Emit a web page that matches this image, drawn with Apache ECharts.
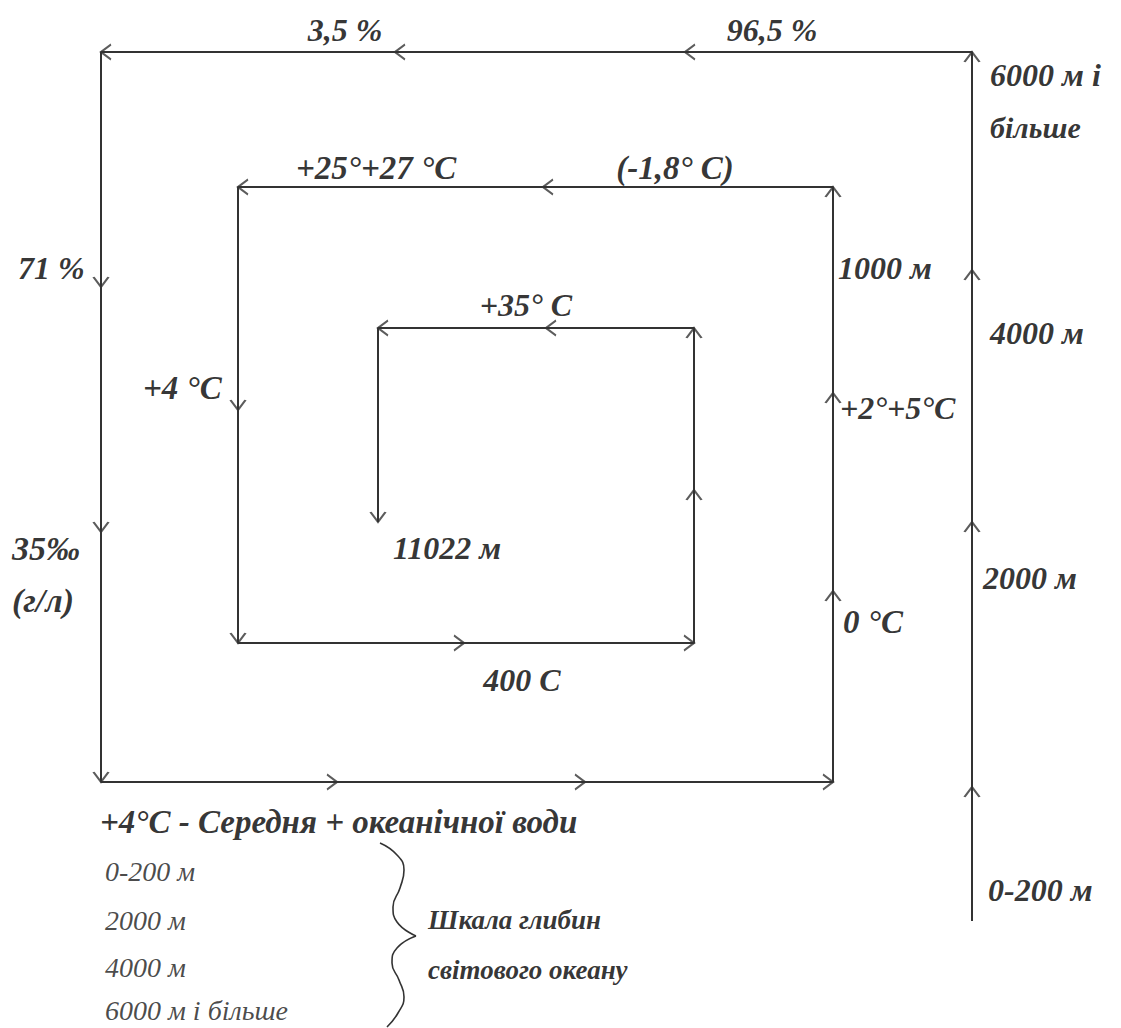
<!DOCTYPE html>
<html><head><meta charset="utf-8">
<script src="https://cdn.jsdelivr.net/npm/echarts@6/dist/echarts.min.js"></script>
<style>html,body{margin:0;padding:0;background:#fff}#c{width:1121px;height:1028px}</style>
</head><body><div id="c"></div>
<script>
// ---- data (diagram coordinates, y grows downward) ----
const spiralX = [972, 972, 101, 101, 833, 833, 238, 238, 694, 694, 378, 378];
const spiralY = [921,  52,  52, 782, 782, 187, 187, 643, 643, 328, 328, 522];

const arrowX   = [972, 972, 972, 972, 685, 395, 101, 101, 101, 101, 337, 585, 833, 833, 833, 833, 543, 238, 238, 238, 464, 694, 694, 694, 546, 378, 378];
const arrowY   = [ 52, 270, 522, 787,  52,  52,  52, 287, 532, 782, 782, 782, 782, 187, 393, 591, 187, 187, 410, 643, 643, 643, 328, 490, 328, 328, 522];
const arrowDir = ['u','u','u','u','l','l','l','d','d','d','r','r','r','u','u','u','l','l','d','d','r','r','u','u','l','l','d'];

const braceTopX = [380, 397, 404, 400, 393, 397, 416];
const braceTopY = [843, 855, 870, 888, 907, 922, 936];
const braceBotX = [416, 397, 392, 399, 404, 398, 387];
const braceBotY = [936, 948, 963, 980, 997, 1013, 1027];

const boldLabels = ['3,5 %', '96,5 %', '6000 м і', 'більше', '+25°+27 °C', '(-1,8° C)', '71 %', '1000 м', '4000 м', '+35° C', '+4 °C', '+2°+5°C', '35‰', '(г/л)', '11022 м', '2000 м', '0 °C', '400 C', '+4°C - Середня + океанічної води', 'Шкала глибин', 'світового океану', '0-200 м'];
const depthLabels = ['0-200 м', '2000 м', '4000 м', '6000 м і більше'];

// ---- layout (label anchors: x, y, align, font size) ----
const boldPos = [
  [345, 30, 'center', 32], [772, 30, 'center', 32], [990, 75, 'left', 32], [990, 127, 'left', 30],
  [376, 168, 'center', 33], [675, 168, 'center', 33], [18, 268, 'left', 32], [838, 268, 'left', 32],
  [990, 333, 'left', 32], [526, 305, 'center', 32], [143, 388, 'left', 33], [840, 408, 'left', 32],
  [12, 548, 'left', 34], [12, 600, 'left', 34], [393, 548, 'left', 32], [983, 578, 'left', 32],
  [843, 622, 'left', 33], [522, 680, 'center', 32], [100, 822, 'left', 33], [428, 920, 'left', 27],
  [428, 970, 'left', 27], [988, 890, 'left', 32]
];
const depthPos = [[105, 871], [105, 920], [105, 967], [105, 1010]];

const INK = '#333';
const FONT = '"Liberation Serif", "DejaVu Serif", serif';
const AH = 10, AW = 15;
const rot = {u: 0, l: 90, d: 180, r: -90};
const vec = {u: [0, -1], l: [-1, 0], d: [0, 1], r: [1, 0]};

const arrowData = arrowX.map((x, i) => {
  const d = vec[arrowDir[i]];
  return {value: [x - d[0] * AH / 2, arrowY[i] - d[1] * AH / 2], symbolRotate: rot[arrowDir[i]]};
});

const chart = echarts.init(document.getElementById('c'), null, {renderer: 'svg'});
chart.setOption({
  animation: false,
  backgroundColor: '#fff',
  grid: {left: 0, right: 0, top: 0, bottom: 0},
  xAxis: {type: 'value', min: 0, max: 1121, show: false},
  yAxis: {type: 'value', min: 0, max: 1028, inverse: true, show: false},
  series: [
    {type: 'line', data: spiralX.map((x, i) => [x, spiralY[i]]), symbol: 'none',
     lineStyle: {color: INK, width: 2}, silent: true},
    {type: 'line', data: braceTopX.map((x, i) => [x, braceTopY[i]]), symbol: 'none', smooth: 0.5,
     lineStyle: {color: INK, width: 1.6}, silent: true},
    {type: 'line', data: braceBotX.map((x, i) => [x, braceBotY[i]]), symbol: 'none', smooth: 0.5,
     lineStyle: {color: INK, width: 1.6}, silent: true},
    {type: 'scatter', data: arrowData, symbol: 'path://M0,10 L7.5,0 L15,10', symbolSize: [AW, AH],
     itemStyle: {color: 'none', borderColor: INK, borderWidth: 2}, silent: true, z: 5},
    {type: 'scatter', symbolSize: 1, itemStyle: {color: 'rgba(0,0,0,0)'}, silent: true,
     data: boldLabels.map((t, i) => ({value: [boldPos[i][0], boldPos[i][1]], name: t,
       label: {align: boldPos[i][2], fontSize: boldPos[i][3]}})),
     label: {show: true, position: 'inside', formatter: '{b}', color: '#000', fontFamily: FONT,
       fontStyle: 'italic', fontWeight: 'bold', verticalAlign: 'middle'}},
    {type: 'scatter', symbolSize: 1, itemStyle: {color: 'rgba(0,0,0,0)'}, silent: true,
     data: depthLabels.map((t, i) => ({value: depthPos[i], name: t})),
     label: {show: true, position: 'inside', formatter: '{b}', color: '#1a1a1a', fontFamily: FONT,
       fontStyle: 'italic', fontWeight: 'normal', fontSize: 28, align: 'left', verticalAlign: 'middle'}}
  ]
});
</script></body></html>
